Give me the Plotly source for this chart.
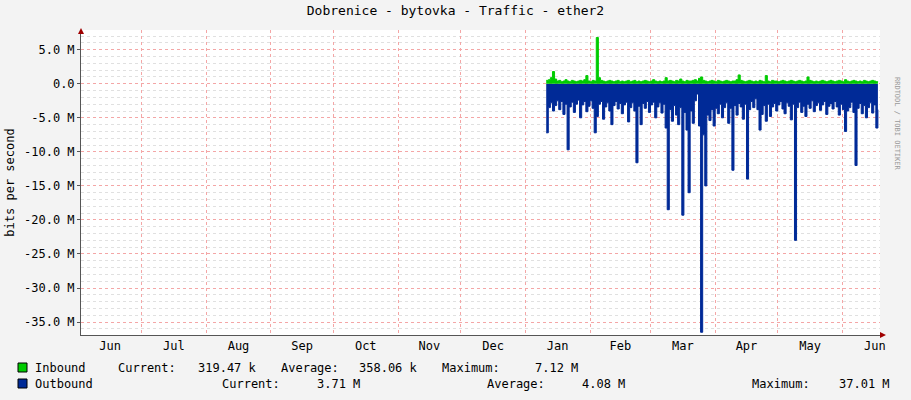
import pandas as pd
import plotly.graph_objects as go

start_date = "2024-01-11"
outbound_m = [7.2,3.5,2.8,4.0,3.2,2.5,3.8,2.6,4.5,3.0,
 9.7,3.4,2.7,4.2,3.0,2.4,5.0,3.1,2.6,4.1,
 3.3,2.5,3.6,7.2,4.8,3.0,2.6,5.2,3.4,2.8,
 4.0,6.0,3.2,2.6,3.7,2.9,4.4,3.1,2.7,5.6,
 3.5,2.8,4.0,11.6,3.3,6.0,2.9,3.6,2.6,4.2,
 3.1,2.7,5.0,3.4,2.8,4.3,3.0,6.5,18.5,3.8,
 5.5,3.2,4.6,6.0,3.5,19.3,4.2,6.8,16.0,4.0,
 5.8,2.5,1.5,6.2,36.5,7.5,15.0,4.6,5.4,3.8,
 6.2,3.6,4.4,3.0,5.0,3.5,2.8,5.8,3.6,12.7,
 3.2,4.6,2.9,3.4,5.2,3.0,14.0,3.8,2.6,3.5,
 2.2,3.8,6.8,4.5,3.2,5.5,3.0,4.8,3.4,2.9,
 4.0,3.1,2.6,3.7,4.4,2.8,3.3,5.3,3.0,23.0,
 3.5,2.7,4.2,3.3,4.8,3.0,3.6,2.5,4.1,3.2,
 2.8,3.9,3.1,2.6,4.5,3.3,2.9,3.7,2.6,3.4,
 4.6,3.0,3.8,7.0,4.0,3.5,2.7,4.2,12.0,3.6,
 2.9,4.4,3.2,5.0,3.5,2.8,4.3,3.1,6.5,3.8]
inbound_m = [0.5,0.6,0.9,1.8,0.7,0.4,0.5,0.3,0.4,0.6,
 0.4,0.3,0.5,0.4,0.3,0.4,0.5,0.4,0.6,1.2,
 0.4,0.3,0.5,0.4,6.8,0.9,0.5,0.4,0.3,0.4,
 0.5,0.4,0.3,0.4,0.5,0.3,0.4,0.3,0.4,0.5,
 0.3,0.4,0.5,0.3,0.4,0.3,0.4,0.5,0.4,0.3,
 0.4,0.6,0.4,0.3,0.4,0.3,0.4,0.9,0.4,0.5,
 0.4,0.3,0.5,0.4,0.7,0.4,0.3,0.5,0.4,0.4,
 0.5,0.6,0.4,0.8,1.0,0.5,0.4,0.3,0.4,0.5,
 0.4,0.3,0.5,0.4,0.3,0.4,0.5,0.4,0.3,0.4,
 0.4,0.6,1.3,0.5,0.4,0.3,0.4,0.5,0.4,0.3,
 0.4,0.3,0.5,0.4,0.3,1.2,0.4,0.3,0.5,0.4,
 0.4,0.3,0.4,0.5,0.4,0.3,0.4,0.5,0.4,0.3,
 0.4,0.5,0.4,0.3,0.4,1.0,0.5,0.4,0.3,0.4,
 0.3,0.4,0.5,0.4,0.3,0.4,0.5,0.4,0.3,0.4,
 0.5,0.4,0.3,0.6,0.4,0.3,0.4,0.5,0.4,0.3,
 0.4,0.3,0.5,0.4,0.3,0.4,0.5,0.4,0.3,0.32]
y_tickvals = [5, 0, -5, -10, -15, -20, -25, -30, -35]
y_ticktext = ["5.0 M", "0.0", "-5.0 M", "-10.0 M", "-15.0 M", "-20.0 M", "-25.0 M", "-30.0 M", "-35.0 M"]
legend_rows = [
    ("Inbound", "#00CC00", [("Current:", 116), ("319.47 k", 196), ("Average:", 279), ("358.06 k", 357), ("Maximum:", 440), ("7.12 M", 533)]),
    ("Outbound", "#002A97", [("Current:", 220), ("3.71 M", 315), ("Average:", 485), ("4.08 M", 580), ("Maximum:", 750), ("37.01 M", 837)]),
]

dates = pd.date_range(start_date, periods=len(outbound_m), freq="D")
FONT = "DejaVu Sans Mono"
W, H = 911, 400
L, R, T, B = 81, 31, 30, 65
PW, PH = W - L - R, H - T - B
def px(x): return (x - L) / PW
def py(y): return (H - B - y) / PH

fig = go.Figure()
fig.add_trace(go.Scatter(x=dates, y=[-v for v in outbound_m], mode="lines", line=dict(color="#002A97", width=1, shape="hv"),
                         fill="tozeroy", fillcolor="#002A97", hoverinfo="skip"))
fig.add_trace(go.Scatter(x=dates, y=inbound_m, mode="lines", line=dict(color="#00CC00", width=1, shape="hv"),
                         fill="tozeroy", fillcolor="#00CC00", hoverinfo="skip"))

fig.update_layout(
    width=W, height=H, margin=dict(l=L, r=R, t=T, b=B, autoexpand=False),
    paper_bgcolor="#F3F3F3", plot_bgcolor="#FFFFFF", showlegend=False,
    font=dict(family=FONT, size=12, color="#000000"),
    title=dict(text="Dobrenice - bytovka - Traffic - ether2", x=0.5, y=0.985, yanchor="top", font=dict(size=13, family=FONT)),
    xaxis=dict(type="date", range=["2023-06-02", "2024-06-19"], dtick="M1", tick0="2023-06-01", ticklabelmode="period",
               tickformat="%b", showgrid=True, gridcolor="#F4A6A6", griddash="dot", gridwidth=1, automargin=False,
               showline=True, linecolor="#555555", ticks="", zeroline=False, tickfont=dict(size=12)),
    yaxis=dict(range=[-36.9, 7.9], tickvals=y_tickvals, ticktext=y_ticktext, showgrid=True, gridcolor="#F4A6A6",
               griddash="dot", showline=True, linecolor="#555555", zeroline=False, ticks="outside", ticklen=3,
               tickcolor="#555555", automargin=False, tickfont=dict(size=12),
               title=dict(text="bits per second", font=dict(size=12), standoff=6),
               minor=dict(dtick=1, showgrid=True, gridcolor="#E0E0E0", griddash="dot")),
)
fig.add_shape(type="path", xref="paper", yref="paper", path=f"M {px(880)} {py(332)} L {px(886)} {py(335)} L {px(880)} {py(338)} Z",
              fillcolor="#A00000", line=dict(width=0))
fig.add_shape(type="path", xref="paper", yref="paper", path=f"M {px(78)} {py(34)} L {px(81)} {py(28)} L {px(84)} {py(34)} Z",
              fillcolor="#A00000", line=dict(width=0))
fig.add_annotation(text="RRDTOOL / TOBI OETIKER", xref="paper", yref="paper", x=px(903), y=py(75), textangle=90,
                   showarrow=False, font=dict(size=7, color="#999999"))
for i, (name, color, items) in enumerate(legend_rows):
    yy = 368 + i * 16
    fig.add_shape(type="rect", xref="paper", yref="paper", x0=px(18), x1=px(27), y0=py(yy - 5), y1=py(yy + 4),
                  fillcolor=color, line=dict(color="#000000", width=1))
    fig.add_annotation(text=name, xref="paper", yref="paper", x=px(33), y=py(yy), xanchor="left", yanchor="middle",
                       showarrow=False, font=dict(size=12))
    for txt, xx in items:
        fig.add_annotation(text=txt, xref="paper", yref="paper", x=px(xx), y=py(yy), xanchor="left", yanchor="middle",
                           showarrow=False, font=dict(size=12))
fig.write_html("out.html", config={"displayModeBar": False},
               post_script="document.body.style.margin='0';document.body.style.background='#F3F3F3';")
